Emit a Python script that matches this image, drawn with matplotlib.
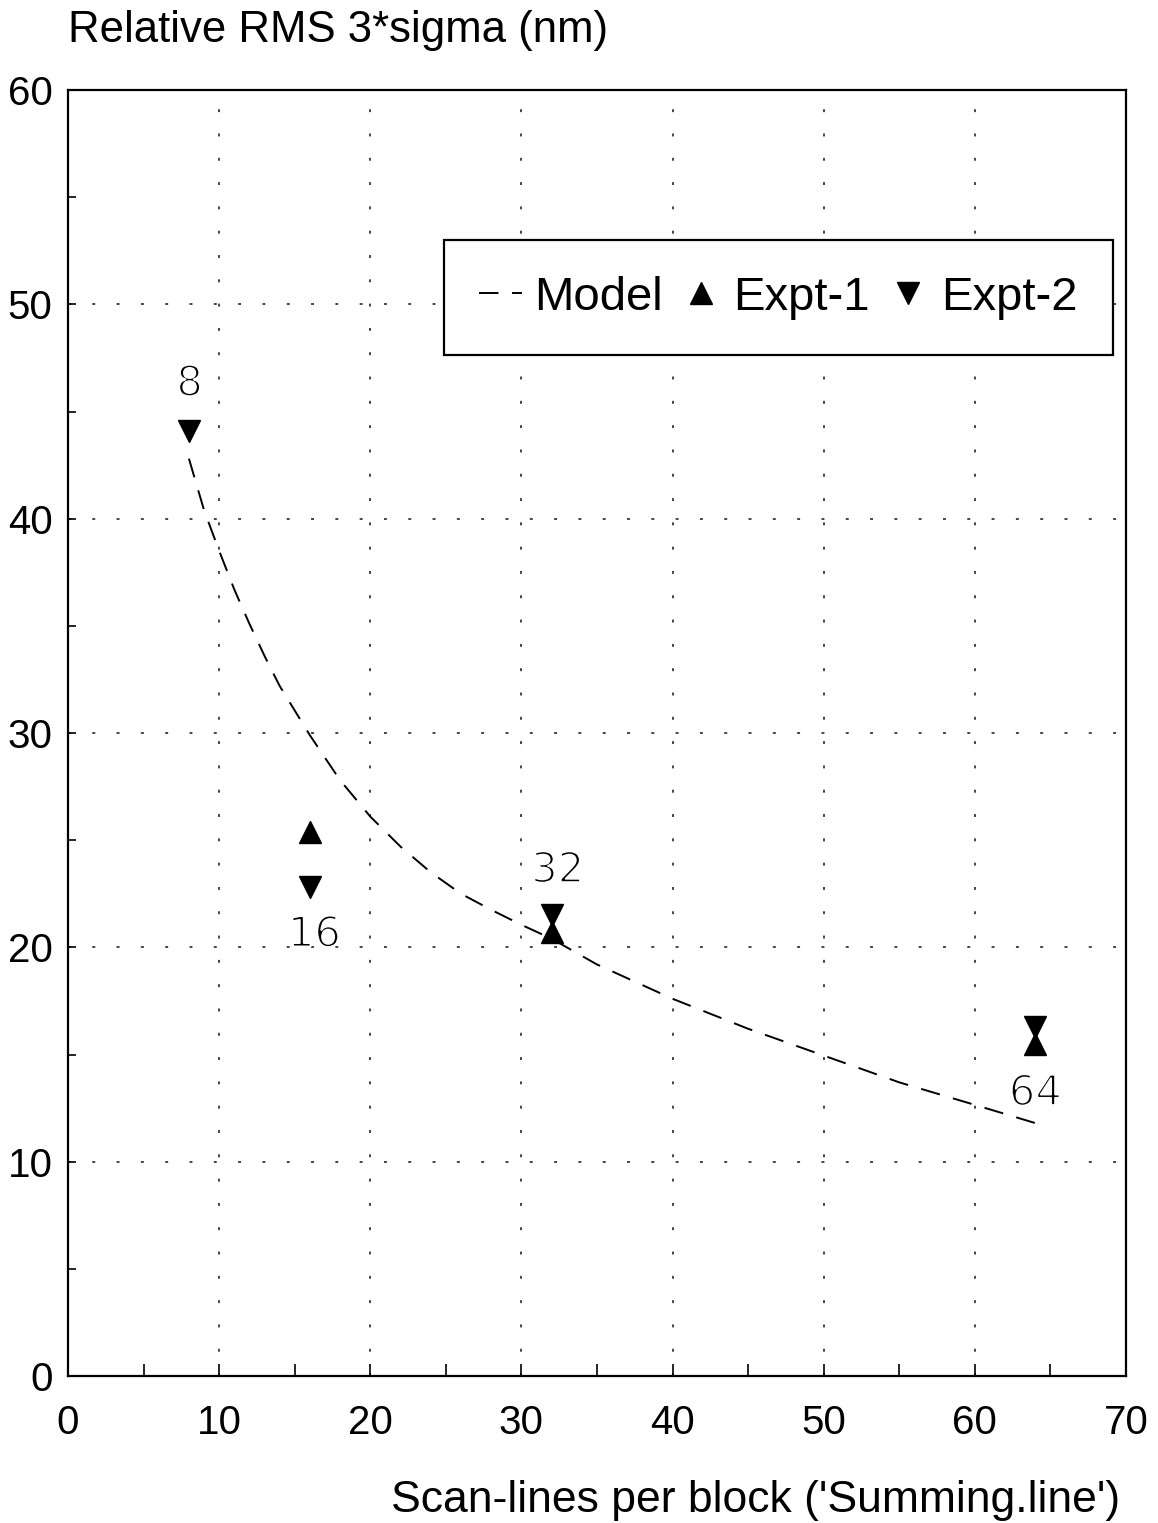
import matplotlib
matplotlib.use("Agg")
import matplotlib.pyplot as plt
import matplotlib.patheffects as pe
from matplotlib.ticker import MultipleLocator

plt.rcParams["font.family"] = ["Liberation Sans", "DejaVu Sans"]

# ---- data ----
model_x = [8, 9, 10, 11, 12, 13, 14, 16, 18, 20, 22, 24, 26, 28, 30, 32,
           35, 40, 45, 50, 55, 60, 64]
model_y = [42.8, 40.4, 38.5, 36.7, 35.1, 33.6, 32.2, 29.9, 27.8, 26.1, 24.7,
           23.5, 22.5, 21.75, 21.05, 20.4, 19.2, 17.6, 16.2, 14.95, 13.7, 12.65, 11.8]

expt1_x = [16, 32, 64]
expt1_y = [25.4, 20.7, 15.5]

expt2_x = [8, 16, 32, 64]
expt2_y = [44.1, 22.8, 21.5, 16.3]

point_labels = ["8", "16", "32", "64"]
label_x = [8.05, 16.3, 32.4, 64.0]
label_y = [46.3, 20.6, 23.6, 13.2]

W, H = 1158, 1523
fig = plt.figure(figsize=(W / 100, H / 100), dpi=100)
ax = fig.add_axes([68 / W, 147 / H, 1058 / W, 1286 / H])

ax.plot(model_x, model_y, color="k", lw=1.4, linestyle=(0, (10, 7)), label="Model")
ax.plot(expt1_x, expt1_y, linestyle="none", marker="^", ms=15.5, color="k",
        label="Expt-1")
ax.plot(expt2_x, expt2_y, linestyle="none", marker="v", ms=15.5, color="k",
        label="Expt-2")

# thin, wide digits for the point labels
thin = [pe.Normal(), pe.Stroke(linewidth=1.4, foreground="white")]
for t, x, y in zip(point_labels, label_x, label_y):
    ax.text(x, y, t, fontsize=30, family="DejaVu Sans", ha="center",
            va="center", color="k", path_effects=thin)

ax.set_xlim(0, 70)
ax.set_ylim(0, 60)
ax.xaxis.set_major_locator(MultipleLocator(10))
ax.xaxis.set_minor_locator(MultipleLocator(5))
ax.yaxis.set_major_locator(MultipleLocator(10))
ax.yaxis.set_minor_locator(MultipleLocator(5))

ax.grid(True, which="major", color="#444444", lw=1.4, linestyle=(0, (1.5, 11)))
ax.tick_params(axis="x", which="both", direction="in", length=9, width=1.2,
               pad=20, labelsize=29, top=False)
ax.tick_params(axis="y", which="both", direction="in", length=6, width=1.2,
               pad=11, labelsize=29, right=False)
for s in ax.spines.values():
    s.set_linewidth(1.6)

leg = ax.legend(loc="upper right", bbox_to_anchor=(0.988, 0.883), ncol=3,
                fontsize=34, frameon=True, fancybox=False, framealpha=1,
                edgecolor="k", borderpad=0.75, handlelength=0.9,
                handletextpad=0.25, columnspacing=0.36, borderaxespad=0)
leg.get_frame().set_linewidth(1.6)

fig.text(68 / W, 1 - 42 / H, "Relative RMS 3*sigma (nm)", fontsize=31.5,
         ha="left", va="baseline")
fig.text(1120 / W, 1 - 1512 / H, "Scan-lines per block ('Summing.line')",
         fontsize=32, ha="right", va="baseline")

fig.savefig("out.png", dpi=100)
